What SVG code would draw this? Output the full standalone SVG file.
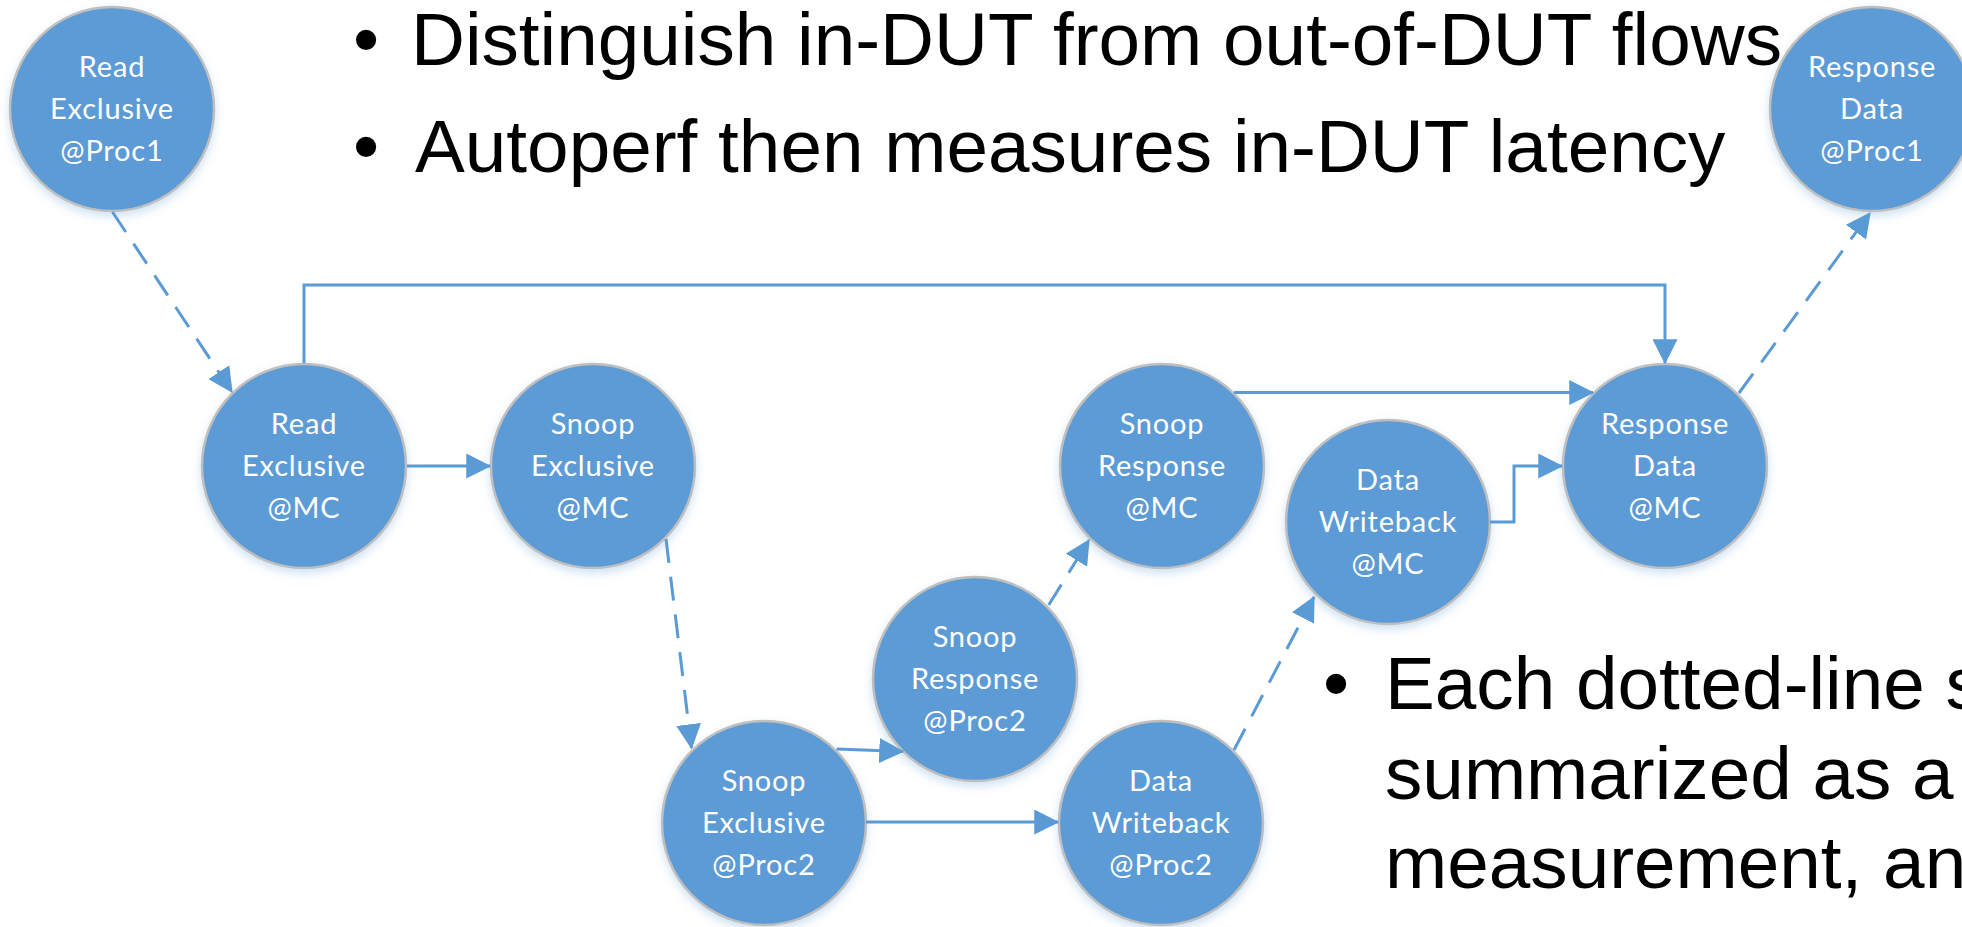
<svg xmlns="http://www.w3.org/2000/svg" width="1962" height="927" viewBox="0 0 1962 927">
<style>
.bg{fill:#ffffff}
.node circle{fill:#5b9bd5;stroke:#bfbfbf;stroke-width:2.5;filter:url(#sh)}
.node text{fill:#ffffff;font-family:Lato,"Open Sans","DejaVu Sans",sans-serif;font-size:29px;letter-spacing:0.8px;text-anchor:middle}
.conn path{fill:none;stroke:#5b9bd5;stroke-width:3;marker-end:url(#ah)}
.conn path.d{stroke-dasharray:24 14}
.big{font-family:"Liberation Sans",Arial,sans-serif;font-size:74.7px;fill:#000000}
</style>
<defs>
<marker id="ah" viewBox="0 0 10 10" markerUnits="userSpaceOnUse" markerWidth="25" markerHeight="25" refX="9.5" refY="5" orient="auto">
<path d="M0,0 L10,5 L0,10 z" fill="#5b9bd5"/>
</marker>
<filter id="sh" x="-20%" y="-20%" width="140%" height="150%">
<feDropShadow dx="0" dy="4" stdDeviation="5" flood-color="#5b9bd5" flood-opacity="0.3"/>
</filter>
</defs>
<rect class="bg" x="0" y="0" width="1962" height="927"/>

<g id="title">
<text class="big" x="353" y="65">•</text>
<text class="big" x="411" y="65">Distinguish in-DUT from out-of-DUT flows</text>
<text class="big" x="353" y="172">•</text>
<text class="big" x="415" y="172">Autoperf then measures in-DUT latency</text>
</g>

<g id="note">
<text class="big" x="1323" y="709">•</text>
<text class="big" x="1385" y="709">Each dotted-line s</text>
<text class="big" x="1385" y="799">summarized as a</text>
<text class="big" x="1385" y="888">measurement, an</text>
</g>

<g id="n-read-proc1" class="node">
<circle cx="112" cy="109" r="102"/>
<text x="112" y="77">Read</text><text x="112" y="119">Exclusive</text><text x="112" y="161">@Proc1</text>
</g>
<g id="n-resp-proc1" class="node">
<circle cx="1872" cy="109" r="102"/>
<text x="1872" y="77">Response</text><text x="1872" y="119">Data</text><text x="1872" y="161">@Proc1</text>
</g>
<g id="n-read-mc" class="node">
<circle cx="304" cy="466" r="102"/>
<text x="304" y="434">Read</text><text x="304" y="476">Exclusive</text><text x="304" y="518">@MC</text>
</g>
<g id="n-snoopex-mc" class="node">
<circle cx="593" cy="466" r="102"/>
<text x="593" y="434">Snoop</text><text x="593" y="476">Exclusive</text><text x="593" y="518">@MC</text>
</g>
<g id="n-snoopresp-mc" class="node">
<circle cx="1162" cy="466" r="102"/>
<text x="1162" y="434">Snoop</text><text x="1162" y="476">Response</text><text x="1162" y="518">@MC</text>
</g>
<g id="n-dwb-mc" class="node">
<circle cx="1388" cy="522" r="102"/>
<text x="1388" y="490">Data</text><text x="1388" y="532">Writeback</text><text x="1388" y="574">@MC</text>
</g>
<g id="n-resp-mc" class="node">
<circle cx="1665" cy="466" r="102"/>
<text x="1665" y="434">Response</text><text x="1665" y="476">Data</text><text x="1665" y="518">@MC</text>
</g>
<g id="n-snoopex-proc2" class="node">
<circle cx="764" cy="823" r="102"/>
<text x="764" y="791">Snoop</text><text x="764" y="833">Exclusive</text><text x="764" y="875">@Proc2</text>
</g>
<g id="n-snoopresp-proc2" class="node">
<circle cx="975" cy="679" r="102"/>
<text x="975" y="647">Snoop</text><text x="975" y="689">Response</text><text x="975" y="731">@Proc2</text>
</g>
<g id="n-dwb-proc2" class="node">
<circle cx="1161" cy="823" r="102"/>
<text x="1161" y="791">Data</text><text x="1161" y="833">Writeback</text><text x="1161" y="875">@Proc2</text>
</g>

<g id="connectors" class="conn">
<path class="d" d="M112.5,212 L232,392"/>
<path d="M407,466 L490,466"/>
<path d="M304,363 V285 H1665 V363"/>
<path d="M1234,392.5 L1593,392.5"/>
<path d="M1490,522 H1514 V466 H1562"/>
<path class="d" d="M666,539 L691.5,748"/>
<path d="M836.6,749 L903,751.5"/>
<path d="M866,822 L1058,822"/>
<path class="d" d="M1048.7,605 L1089,540"/>
<path class="d" d="M1234,750 L1314,597"/>
<path class="d" d="M1739,393 L1870,213"/>
</g>
</svg>
